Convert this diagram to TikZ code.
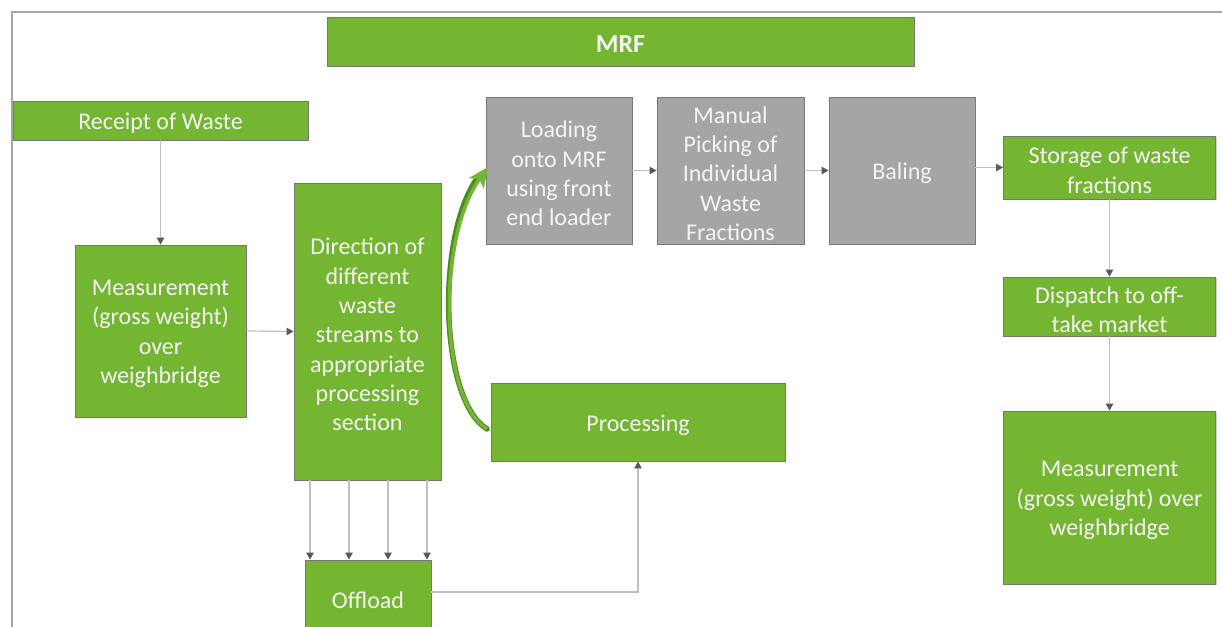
\documentclass[tikz,border=0pt]{standalone}
\usepackage{fontspec}
\setmainfont{Carlito}
\usetikzlibrary{arrows.meta,shadows}
\definecolor{mgreen}{HTML}{74B532}
\definecolor{dgreen}{HTML}{4E8A22}
\definecolor{mgray}{HTML}{A5A5A5}
\definecolor{edge}{HTML}{767676}
\definecolor{conn}{HTML}{BFBFBF}
\definecolor{tipc}{HTML}{595959}
\definecolor{frame}{HTML}{A6A6A6}
\definecolor{txt}{HTML}{F4F4F4}
\tikzset{
  box/.style={draw=edge, line width=0.9pt, inner sep=0pt,
    drop shadow={shadow xshift=1.2pt, shadow yshift=-1.2pt, opacity=0.35}},
  gbox/.style={box, fill=mgreen},
  ybox/.style={box, fill=mgray},
  txt/.style={label={[text=txt, align=center, inner sep=0pt, yshift=-3pt,
    font=\fontsize{24}{29.3}\selectfont]center:#1}},
  conn/.style={draw=conn, line width=1.2pt, -{Triangle[length=7pt,width=7.5pt,color=tipc]}},
}
\begin{document}
\begin{tikzpicture}[x=1pt,y=-1pt]
\useasboundingbox (0,0) rectangle (1222,626);
\clip (0,0) rectangle (1222,626);
\fill[white] (0,0) rectangle (1222,626);
% frame
\coordinate (f1) at (12,640);
\coordinate (f2) at (12,12);
\coordinate (f3) at (1230,12);
\draw[frame, line width=1.5pt] (f1) -- (f2) -- (f3);

\node[gbox, minimum width=587pt, minimum height=49pt,
  label={[text=txt, inner sep=0pt, yshift=-3pt, font=\fontsize{26}{30}\selectfont\bfseries]center:MRF}] (mrf) at (620.5,41.5) {};
\node[gbox, minimum width=295pt, minimum height=39pt, txt={Receipt of Waste}] (rec) at (160.5,120.5) {};
\node[gbox, minimum width=171pt, minimum height=172pt, txt={Measurement\\(gross weight)\\over\\weighbridge}] (meas1) at (160.5,331) {};
\node[gbox, minimum width=147pt, minimum height=297pt, txt={Direction of\\different\\waste\\streams to\\appropriate\\processing\\section}] (dir) at (367.5,331.5) {};
\node[ybox, minimum width=146pt, minimum height=147pt, txt={Loading\\onto MRF\\using front\\end loader}] (load) at (559,170.5) {};
\node[ybox, minimum width=147pt, minimum height=147pt, txt={Manual\\Picking of\\Individual\\Waste\\Fractions}] (pick) at (730.5,170.5) {};
\node[ybox, minimum width=146pt, minimum height=147pt, txt={Baling}] (bal) at (902,170.5) {};
\node[gbox, minimum width=212pt, minimum height=63pt, txt={Storage of waste\\fractions}] (sto) at (1109.5,167.5) {};
\node[gbox, minimum width=212pt, minimum height=59pt, txt={Dispatch to off-\\take market}] (dis) at (1109.5,306.5) {};
\node[gbox, minimum width=212pt, minimum height=173pt, txt={Measurement\\(gross weight) over\\weighbridge}] (meas2) at (1109.5,497.5) {};
\node[gbox, minimum width=294pt, minimum height=78pt, txt={Processing}] (proc) at (638,422) {};
\node[gbox, minimum width=126pt, minimum height=74pt, txt={Offload}] (off) at (368,597) {};

% connectors
\draw[conn] (rec.south) -- (meas1.north);
\draw[conn] (meas1.east) -- (dir.west);
\draw[conn] (load.east) -- (pick.west);
\draw[conn] (pick.east) -- (bal.west);
\draw[conn] (bal.east |- sto.west) -- (sto.west);
\draw[conn] (sto.south) -- (dis.north);
\draw[conn] (dis.south) -- (meas2.north);
\foreach \x in {310,349,388,427}{
  \draw[conn] (dir.south -| \x,0) -- (off.north -| \x,0);
}
\draw[conn] (off.east |- 0,592) -| (proc.south);

% curved green arrow
\coordinate (ct) at (487,429);
\coordinate (ch) at (488,167);
\draw[dgreen, line width=5.5pt, line cap=round] (ct) .. controls (440,400) and (436,240) .. (476,180);
\draw[mgreen, line width=3.5pt, -{Stealth[length=20pt,width=18pt,inset=5pt,color=mgreen]}] (ct) .. controls (440,400) and (436,240) .. (ch);
\end{tikzpicture}
\end{document}
